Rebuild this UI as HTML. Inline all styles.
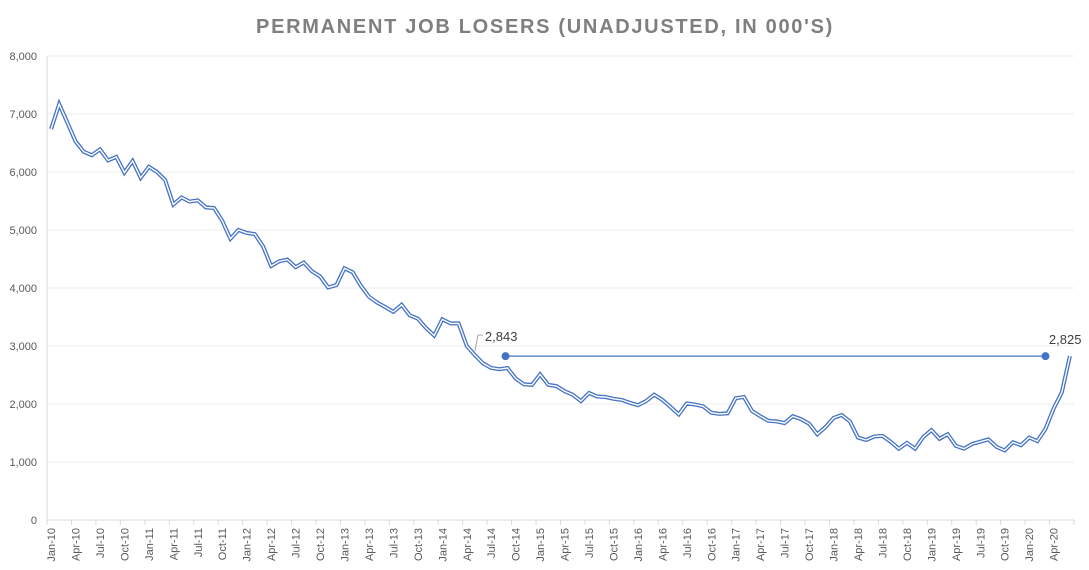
<!DOCTYPE html>
<html><head><meta charset="utf-8"><style>
html,body{margin:0;padding:0;background:#fff;}
svg{display:block;font-family:"Liberation Sans",sans-serif;}
</style></head><body>
<svg id="chart" width="1089" height="570" viewBox="0 0 1089 570">
<text x="545" y="33" text-anchor="middle" font-size="20" font-weight="bold" fill="#7f7f7f" letter-spacing="1.7">PERMANENT JOB LOSERS (UNADJUSTED, IN 000'S)</text>
<g id="grid"></g><g id="axes"></g><g id="series"></g><g id="annot"></g>
</svg>
<script>
const months=["Jan","Feb","Mar","Apr","May","Jun","Jul","Aug","Sep","Oct","Nov","Dec"];
const startYear=10;
const values=[
6740,7170,6850,6530,6350,6290,6390,6200,6260,5990,6190,5900,
6090,6000,5860,5440,5560,5490,5510,5390,5380,5160,4850,5000,
4950,4930,4720,4380,4460,4490,4360,4440,4290,4200,4010,4050,
4340,4270,4040,3850,3750,3670,3590,3710,3530,3470,3310,3180,
3460,3390,3390,3000,2843,2700,2620,2600,2620,2440,2340,2330,
2510,2330,2310,2220,2160,2050,2190,2130,2120,2090,2070,2020,
1980,2050,2160,2070,1950,1820,2010,1990,1960,1850,1830,1840,
2100,2120,1880,1790,1710,1700,1670,1790,1740,1660,1480,1600,
1760,1810,1700,1420,1380,1440,1450,1350,1230,1330,1230,1430,
1550,1400,1480,1280,1230,1310,1350,1390,1260,1200,1340,1290,
1420,1360,1570,1920,2200,2825];
const yTicks=[0,1000,2000,3000,4000,5000,6000,7000,8000];
const annStartIdx=56, annEndIdx=122, annValue=2825;
const annLabelA="2,843", annLabelB="2,825", annSrcIdx=52;

const NS="http://www.w3.org/2000/svg";
const L=47,R=1074,T=56,B=520,yMax=8000;
const n=values.length, step=(R-L)/n;
const x=i=>L+step*(i+0.5);
const y=v=>B-(v/yMax)*(B-T);
function mk(tag,attrs,parent){const e=document.createElementNS(NS,tag);for(const k in attrs)e.setAttribute(k,attrs[k]);parent.appendChild(e);return e;}
const grid=document.getElementById('grid'),axes=document.getElementById('axes'),series=document.getElementById('series'),annot=document.getElementById('annot');
yTicks.forEach(t=>{
  if(t>0){const g=mk('line',{x1:L,x2:R,y1:y(t),y2:y(t),stroke:'#ececec','stroke-width':1},grid);
  
  }
  const tx=mk('text',{x:37,y:y(t)+4,'text-anchor':'end','font-size':11,fill:'#595959'},axes);
  tx.textContent=t.toLocaleString('en-US');
  
  
});
const la=mk('line',{x1:L,x2:L,y1:T,y2:B,stroke:'#d9d9d9'},axes);


const xa=mk('line',{x1:L,x2:R,y1:B,y2:B,stroke:'#d9d9d9'},axes);


for(let i=0;i<=n;i+=3){
  const tk=mk('line',{x1:L+step*i,x2:L+step*i,y1:B,y2:B+5,stroke:'#d9d9d9'},axes);
  
  
}
for(let i=0;i<n;i+=3){
  const lab=months[i%12]+'-'+(startYear+Math.floor(i/12));
  const tx=mk('text',{transform:`translate(${x(i)+4},${B+8}) rotate(-90)`,'text-anchor':'end','font-size':11,fill:'#595959'},axes);
  tx.textContent=lab;
  
  
}
const pts=values.map((v,i)=>x(i).toFixed(1)+','+y(v).toFixed(1)).join(' ');
const outer=mk('polyline',{points:pts,fill:'none',stroke:'#4472c4','stroke-width':4,'stroke-linejoin':'miter'},series);


const inner=mk('polyline',{points:pts,fill:'none',stroke:'#fff','stroke-width':1.4,'stroke-linejoin':'miter'},series);


const ay=y(annValue);
const hl=mk('line',{x1:x(annStartIdx)-2,x2:x(annEndIdx),y1:ay,y2:ay,stroke:'#4472c4','stroke-width':1.2},annot);


[annStartIdx,annEndIdx].forEach((i,k)=>{
  const c=mk('circle',{cx:x(i)-(k===0?2:0),cy:ay,r:4,fill:'#4472c4'},annot);
  
  
});
const sx=x(annSrcIdx), sy=y(values[annSrcIdx]);
const ld=mk('polyline',{points:`${sx},${sy-4} ${sx+3},${sy-20} ${sx+8},${sy-20}`,fill:'none',stroke:'#a6a6a6','stroke-width':1},annot);


const ta=mk('text',{x:sx+10,y:sy-14,'font-size':13,fill:'#404040'},annot);
ta.textContent=annLabelA;


const tb=mk('text',{x:x(n-1)-21,y:y(values[n-1])-12,'font-size':13,fill:'#404040'},annot);
tb.textContent=annLabelB;


</script>
</body></html>
